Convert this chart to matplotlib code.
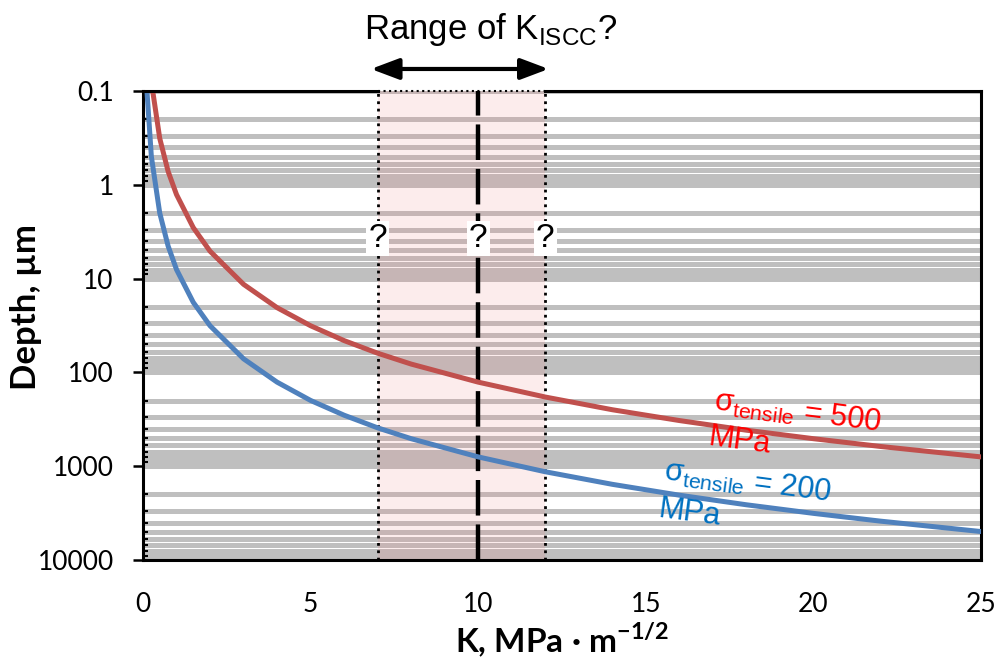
import matplotlib
matplotlib.use("Agg")
import matplotlib.pyplot as plt
from matplotlib.ticker import LogLocator, FuncFormatter, NullFormatter

plt.rcParams['mathtext.fontset'] = 'custom'
plt.rcParams['mathtext.rm'] = 'Liberation Sans'

# values
k_values = [0.1, 0.25, 0.5, 0.75, 1, 1.5, 2, 3, 4, 5, 6, 7, 8, 10,
            12, 14, 16, 18, 20, 22, 25]
depth_200 = [0.08, 0.50, 2.0, 4.5, 8.0, 17.9, 31.8, 71.6, 127, 199, 286,
             390, 509, 796, 1146, 1560, 2037, 2578, 3183, 3852, 4974]
depth_500 = [0.013, 0.08, 0.32, 0.72, 1.27, 2.86, 5.1, 11.5, 20.4, 31.8,
             45.8, 62.4, 81.5, 127, 183, 250, 326, 413, 509, 616, 796]
kiscc_low, kiscc_mid, kiscc_high = 7, 10, 12
x_ticks = [0, 5, 10, 15, 20, 25]
y_ticks = [0.1, 1, 10, 100, 1000, 10000]

RED = '#C0504D'
BLUE = '#4F81BD'
TICK_FONT = 'Lato'
ANNOT_FONT = 'Liberation Sans'

fig = plt.figure(figsize=(9.95, 6.61), dpi=100)
ax = fig.add_axes([0.1437, 0.1528, 0.8423, 0.7095])

ax.set_yscale('log')
ax.set_xlim(0, 25)
ax.set_ylim(10000, 0.1)

# grey grid lines on every log tick
ax.yaxis.set_major_locator(LogLocator(base=10, numticks=10))
ax.yaxis.set_minor_locator(LogLocator(base=10, subs=range(2, 10), numticks=50))
ax.yaxis.set_major_formatter(FuncFormatter(lambda v, p: f'{v:g}'))
ax.yaxis.set_minor_formatter(NullFormatter())
ax.set_yticks(y_ticks)
ax.set_axisbelow(True)
ax.yaxis.grid(True, which='both', color='#BFBFBF', lw=3.6)
ax.set_xticks(x_ticks)

# K_ISCC range box
ax.axvspan(kiscc_low, kiscc_high, facecolor='#F08080', alpha=0.15, lw=0, zorder=1)
for xv in (kiscc_low, kiscc_high):
    ax.axvline(xv, color='black', ls=':', lw=2, zorder=2)
ax.axvline(kiscc_mid, color='black', ls=(0, (8, 2)), lw=3.2, zorder=2)

ax.plot(k_values, depth_500, color=RED, lw=3.6, zorder=3)
ax.plot(k_values, depth_200, color=BLUE, lw=3.6, zorder=3)

# spines; the top one is broken where the dotted box sits
for side in ('left', 'right', 'bottom'):
    ax.spines[side].set_linewidth(2.2)
ax.spines['top'].set_visible(False)
ax.plot([0, kiscc_low], [0.1, 0.1], color='black', lw=2.2, clip_on=False,
        solid_capstyle='projecting', zorder=4)
ax.plot([kiscc_high, 25], [0.1, 0.1], color='black', lw=2.2, clip_on=False,
        solid_capstyle='projecting', zorder=4)
ax.plot([kiscc_low, kiscc_high], [0.1, 0.1], color='black', ls=':', lw=1.5,
        clip_on=False, zorder=4)

ax.tick_params(axis='y', which='major', direction='out', length=7, width=1.8,
               pad=14, labelsize=19)
ax.tick_params(axis='y', which='minor', direction='in', length=3.5, width=1.5)
ax.tick_params(axis='x', which='major', direction='in', length=6, width=1.8,
               pad=23, labelsize=19)
for lab in ax.get_xticklabels() + ax.get_yticklabels():
    lab.set_fontfamily(TICK_FONT)

ax.set_xlabel('K, MPa · m$^{\\mathregular{\u22121/2}}$', fontfamily=TICK_FONT,
              fontweight='bold', fontsize=24, labelpad=2)
ax.set_ylabel('Depth, µm', fontfamily=TICK_FONT, fontweight='bold',
              fontsize=25)
ax.yaxis.set_label_coords(-0.121, 0.54)

# question marks
for xv in (kiscc_low, kiscc_mid, kiscc_high):
    ax.text(xv, 3.7, '?', ha='center', va='center', fontsize=24,
            fontfamily=ANNOT_FONT, zorder=6,
            bbox=dict(facecolor='white', edgecolor='none', pad=1.5))

# range arrow and heading
ax.annotate('', xy=(12.1, 1.047), xytext=(6.8, 1.047),
            xycoords=('data', 'axes fraction'),
            textcoords=('data', 'axes fraction'),
            arrowprops=dict(arrowstyle='<|-|>,head_length=0.85,head_width=0.32',
                            color='black', lw=3, mutation_scale=20,
                            shrinkA=0, shrinkB=0))
fig.text(0.493, 0.955, r'Range of K$_{\mathregular{ISCC}}$?', ha='center',
         va='center', fontsize=25, fontfamily=ANNOT_FONT)

# curve labels
label_kw = dict(rotation=-7.5, rotation_mode='anchor', ha='left',
                va='baseline', fontfamily=ANNOT_FONT, zorder=5)
ax.text(17.0, 251, r'$\mathregular{σ_{tensile}}$ = 500', color='#FF0000',
        fontsize=22, **label_kw)
ax.text(16.84, 594, 'MPa', color='#FF0000', fontsize=22, **label_kw)
ax.text(15.52, 1403, r'$\mathregular{σ_{tensile}}$ = 200', color='#0070C0',
        fontsize=22, **label_kw)
ax.text(15.34, 3470, 'MPa', color='#0070C0', fontsize=22, **label_kw)

fig.savefig('out.png', dpi=100)
